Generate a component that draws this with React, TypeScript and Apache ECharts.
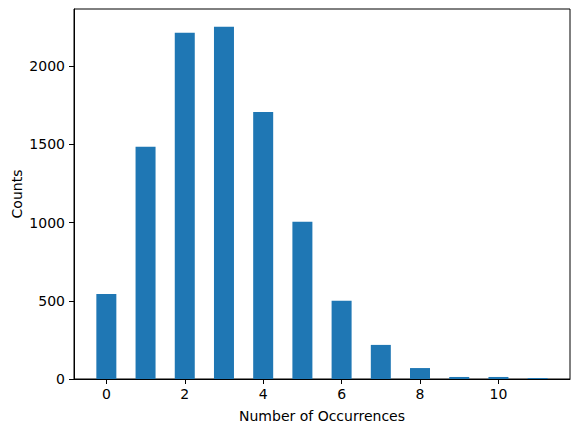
import { useEffect, useRef } from "react";
import * as echarts from "echarts";

const occurrences = [0, 1, 2, 3, 4, 5, 6, 7, 8, 9, 10, 11];
const counts = [544, 1485, 2214, 2252, 1708, 1005, 500, 218, 70, 13, 13, 6];
const xTicks = [0, 2, 4, 6, 8, 10];
const yTicks = [0, 500, 1000, 1500, 2000];

const font = "DejaVu Sans";

export default function App() {
  const reference = useRef<HTMLDivElement>(null);
  useEffect(() => {
    const element = reference.current;
    if (element === null) return;
    const chart = echarts.init(element, undefined, { renderer: "svg" });
    chart.setOption({
      animation: false,
      textStyle: { fontFamily: font },
      grid: {
        left: 74,
        right: 10,
        top: 9,
        bottom: 53,
        outerBoundsMode: "none",
        containLabel: false,
        show: true,
        borderColor: "#000",
        borderWidth: 1,
      },
      xAxis: {
        type: "value",
        min: -0.825,
        max: 11.825,
        name: "Number of Occurrences",
        nameLocation: "middle",
        nameGap: 30,
        nameMoveOverlap: false,
        nameTextStyle: { color: "#000", fontSize: 14, fontFamily: font },
        splitLine: { show: false },
        axisLine: { show: true, onZero: false, lineStyle: { color: "#000" } },
        axisTick: {
          show: true,
          length: 5,
          customValues: xTicks,
          lineStyle: { color: "#000" },
        },
        axisLabel: {
          color: "#000",
          fontSize: 14,
          margin: 8,
          customValues: xTicks,
          formatter: (v: number) => String(v),
        },
      },
      yAxis: {
        type: "value",
        min: 0,
        max: 2366,
        name: "Counts",
        nameLocation: "middle",
        nameGap: 50,
        nameMoveOverlap: false,
        nameTextStyle: { color: "#000", fontSize: 14, fontFamily: font },
        splitLine: { show: false },
        axisLine: { show: true, onZero: false, lineStyle: { color: "#000" } },
        axisTick: {
          show: true,
          length: 5,
          customValues: yTicks,
          lineStyle: { color: "#000" },
        },
        axisLabel: {
          color: "#000",
          fontSize: 14,
          margin: 9,
          customValues: yTicks,
          formatter: (v: number) => String(v),
        },
      },
      series: [
        {
          type: "bar",
          barWidth: 20,
          itemStyle: { color: "#1f77b4" },
          data: occurrences.map((x, i) => [x, counts[i]]),
        },
      ],
    });
    return () => chart.dispose();
  }, []);
  return (
    <div
      ref={reference}
      style={{ position: "absolute", left: 0, top: 0, width: 580, height: 432 }}
    />
  );
}
